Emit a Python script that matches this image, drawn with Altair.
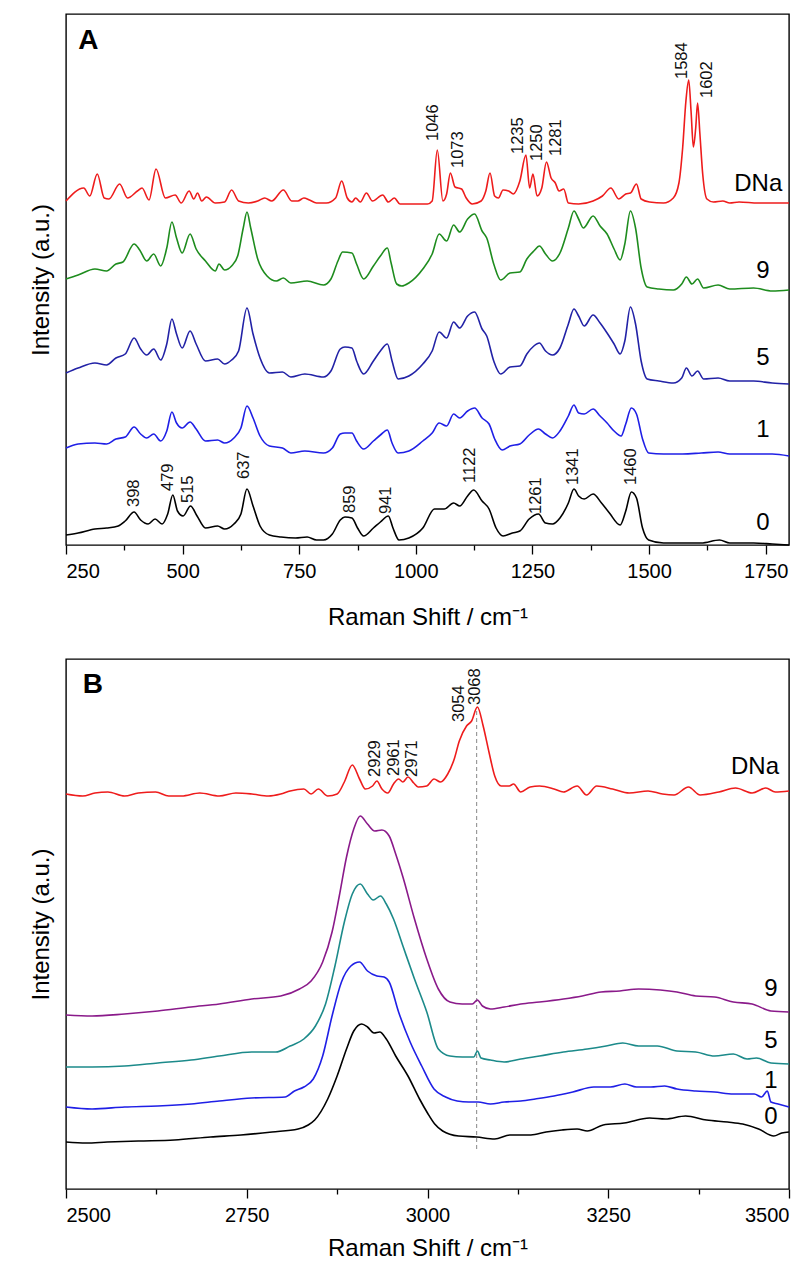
import altair as alt
import pandas as pd

FONT = "Liberation Sans"

# ---------------- Panel A (250-1800 cm-1) : (Raman shift, intensity a.u.) ----------------
A_DNA = [(250, 344), (288, 357), (301, 349), (317, 371), (332, 347), (342, 346), (365, 361), (382, 347),
         (403, 354), (413, 357), (428, 345), (443, 376), (463, 347), (484, 350), (497, 342), (514, 354),
         (524, 346), (532, 352), (541, 344), (551, 348), (570, 342), (590, 343), (605, 355), (620, 344),
         (641, 342), (661, 344), (676, 347), (691, 344), (716, 355), (734, 344), (747, 344), (760, 347),
         (772, 345), (787, 342), (808, 342), (828, 347), (841, 364), (853, 347), (863, 343), (871, 347),
         (881, 343), (894, 352), (907, 344), (929, 350), (941, 343), (954, 347), (966, 341), (1025, 341),
         (1035, 344), (1046, 395), (1058, 344), (1066, 351), (1074, 372), (1084, 358), (1098, 356),
         (1108, 347), (1121, 341), (1140, 344), (1150, 354), (1159, 372), (1169, 349), (1177, 347),
         (1187, 355), (1199, 354), (1209, 351), (1223, 364), (1236, 390), (1244, 357), (1251, 371),
         (1260, 349), (1270, 357), (1280, 383), (1290, 367), (1299, 362), (1307, 354), (1317, 356),
         (1327, 342), (1349, 341), (1380, 344), (1400, 349), (1418, 357), (1435, 346), (1450, 351),
         (1460, 352), (1473, 361), (1483, 346), (1501, 343), (1531, 342), (1552, 347), (1564, 362),
         (1572, 397), (1579, 444), (1585, 465), (1590, 434), (1595, 398), (1600, 417), (1604, 442),
         (1609, 411), (1615, 371), (1624, 346), (1638, 343), (1658, 344), (1673, 342), (1693, 343),
         (1734, 342), (1764, 342), (1800, 342)]

A_9 = [(250, 266), (276, 270), (312, 276), (337, 274), (357, 281), (372, 283), (396, 301), (408, 295),
       (423, 284), (438, 291), (453, 279), (466, 297), (477, 323), (487, 307), (499, 292), (516, 311),
       (529, 296), (549, 284), (570, 274), (578, 281), (590, 275), (605, 279), (618, 289), (630, 317),
       (638, 333), (646, 317), (661, 286), (681, 269), (701, 264), (716, 267), (732, 262), (767, 264),
       (802, 260), (818, 266), (833, 284), (843, 293), (863, 292), (873, 281), (888, 266), (909, 279),
       (924, 289), (939, 297), (947, 282), (959, 261), (970, 259), (985, 262), (1015, 276), (1035, 291),
       (1050, 311), (1066, 304), (1081, 320), (1094, 313), (1111, 326), (1126, 331), (1142, 314),
       (1152, 307), (1167, 281), (1182, 265), (1202, 272), (1223, 273), (1238, 286), (1253, 294),
       (1265, 299), (1278, 291), (1293, 284), (1309, 292), (1327, 317), (1339, 334), (1349, 326),
       (1359, 317), (1380, 329), (1395, 319), (1410, 311), (1425, 296), (1438, 285), (1448, 301),
       (1460, 334), (1471, 317), (1483, 277), (1496, 258), (1521, 256), (1552, 255), (1570, 261),
       (1580, 268), (1592, 261), (1604, 266), (1617, 257), (1648, 260), (1673, 256), (1724, 257),
       (1764, 254), (1800, 255)]

A_5 = [(250, 172), (276, 177), (312, 182), (337, 180), (357, 187), (377, 191), (396, 207), (410, 196),
       (423, 190), (438, 196), (453, 185), (466, 201), (477, 226), (487, 211), (499, 197), (516, 214),
       (529, 201), (549, 184), (575, 186), (590, 181), (605, 185), (620, 194), (638, 237), (651, 211),
       (666, 187), (686, 172), (714, 173), (732, 168), (762, 171), (802, 168), (818, 174), (838, 196),
       (848, 198), (863, 197), (873, 184), (888, 171), (909, 184), (924, 194), (939, 201), (949, 184),
       (962, 166), (985, 169), (1015, 181), (1035, 194), (1050, 213), (1066, 207), (1081, 223),
       (1094, 217), (1111, 229), (1126, 233), (1142, 216), (1152, 209), (1167, 184), (1182, 171),
       (1202, 178), (1223, 179), (1238, 191), (1253, 199), (1265, 202), (1278, 194), (1293, 190),
       (1309, 197), (1327, 221), (1339, 236), (1349, 229), (1361, 219), (1380, 230), (1395, 222),
       (1410, 212), (1425, 201), (1438, 191), (1448, 204), (1460, 238), (1471, 221), (1483, 184),
       (1496, 166), (1521, 164), (1552, 162), (1570, 167), (1580, 177), (1592, 169), (1604, 174),
       (1617, 166), (1648, 167), (1673, 164), (1724, 164), (1764, 162), (1800, 161)]

A_1 = [(250, 97), (276, 101), (312, 102), (337, 101), (357, 106), (377, 108), (396, 118), (410, 111),
       (423, 107), (438, 111), (453, 104), (466, 114), (477, 133), (487, 122), (499, 117), (516, 123),
       (529, 116), (549, 104), (575, 105), (590, 102), (610, 107), (625, 117), (638, 139), (651, 127),
       (666, 109), (686, 99), (714, 97), (732, 92), (762, 94), (802, 92), (821, 97), (838, 111),
       (848, 112), (863, 112), (873, 104), (888, 96), (909, 104), (924, 110), (939, 115), (949, 102),
       (962, 92), (985, 94), (1015, 104), (1035, 112), (1050, 122), (1066, 119), (1081, 131),
       (1094, 127), (1111, 134), (1126, 137), (1142, 127), (1157, 121), (1169, 106), (1185, 95),
       (1202, 99), (1223, 101), (1243, 110), (1263, 116), (1278, 111), (1293, 107), (1309, 114),
       (1327, 129), (1339, 140), (1349, 132), (1361, 131), (1380, 136), (1395, 129), (1410, 122),
       (1425, 114), (1440, 109), (1450, 121), (1462, 137), (1473, 131), (1486, 106), (1499, 92),
       (1531, 91), (1572, 91), (1612, 92), (1648, 93), (1673, 91), (1724, 91), (1764, 91), (1800, 89)]

A_0 = [(250, 10), (276, 12), (312, 16), (337, 17), (362, 19), (377, 24), (396, 33), (410, 25), (426, 21),
       (441, 26), (456, 21), (468, 31), (479, 50), (489, 34), (501, 29), (517, 39), (531, 29), (549, 17),
       (575, 19), (590, 16), (610, 21), (625, 31), (638, 56), (651, 39), (666, 19), (686, 10), (711, 8),
       (742, 7), (767, 8), (787, 5), (802, 5), (821, 11), (838, 25), (848, 28), (863, 27), (875, 17),
       (888, 9), (909, 17), (924, 23), (941, 29), (951, 17), (964, 5), (985, 7), (1015, 17), (1040, 36),
       (1061, 36), (1081, 42), (1094, 39), (1111, 49), (1124, 55), (1142, 44), (1157, 36), (1172, 17),
       (1187, 9), (1207, 12), (1223, 14), (1243, 26), (1263, 31), (1278, 22), (1293, 21), (1309, 27),
       (1327, 42), (1339, 56), (1349, 49), (1361, 46), (1380, 51), (1398, 42), (1415, 32), (1438, 20),
       (1450, 34), (1462, 53), (1473, 47), (1486, 17), (1499, 5), (1531, 2), (1572, 2), (1612, 2),
       (1651, 5), (1673, 2), (1724, 2), (1764, 1), (1800, 0)]

A_PEAKS = [("1046", 1037, 404), ("1073", 1091, 377), ("1235", 1220, 391), ("1250", 1260, 384),
           ("1281", 1301, 389), ("1584", 1570, 466), ("1602", 1624, 447),
           ("398", 395, 38), ("479", 468, 54), ("515", 511, 42), ("637", 632, 66), ("859", 858, 32),
           ("941", 936, 31), ("1122", 1116, 62), ("1261", 1258, 31), ("1341", 1336, 60), ("1460", 1462, 60)]
A_LABELS = [("DNa", 1734, 361), ("9", 1744, 274), ("5", 1744, 187), ("1", 1744, 115), ("0", 1744, 22)]

# ---------------- Panel B (2500-3500 cm-1) ----------------
B_DNA = [(2500, 395), (2523, 393), (2540, 396), (2558, 397), (2581, 393), (2600, 396), (2624, 397),
         (2642, 393), (2660, 393), (2685, 396), (2712, 393), (2735, 396), (2757, 395), (2780, 393),
         (2797, 395), (2810, 398), (2829, 400), (2839, 395), (2849, 400), (2862, 393), (2875, 395),
         (2885, 407), (2896, 424), (2906, 410), (2914, 400), (2924, 403), (2930, 408), (2937, 400),
         (2945, 396), (2953, 405), (2960, 410), (2966, 407), (2973, 412), (2981, 406), (2987, 402),
         (2999, 403), (3009, 410), (3018, 407), (3028, 415), (3037, 430), (3044, 448), (3054, 463),
         (3061, 468), (3069, 482), (3077, 463), (3085, 437), (3093, 413), (3102, 403), (3113, 403),
         (3119, 405), (3129, 397), (3142, 402), (3155, 403), (3175, 400), (3188, 397), (3207, 403),
         (3220, 394), (3234, 403), (3256, 400), (3279, 396), (3305, 398), (3325, 395), (3341, 394),
         (3361, 402), (3377, 394), (3403, 397), (3426, 401), (3449, 396), (3468, 401), (3481, 397),
         (3500, 398)]

B_9 = [(2500, 174), (2536, 173), (2581, 175), (2627, 178), (2673, 182), (2712, 185), (2757, 190),
       (2797, 193), (2823, 200), (2839, 208), (2855, 227), (2868, 257), (2878, 293), (2888, 332),
       (2898, 360), (2907, 373), (2917, 365), (2927, 358), (2937, 359), (2947, 353), (2956, 335),
       (2966, 312), (2982, 270), (2999, 230), (3015, 200), (3031, 187), (3048, 185), (3062, 185),
       (3069, 189), (3076, 183), (3087, 180), (3106, 182), (3129, 185), (3155, 187), (3188, 190),
       (3214, 193), (3240, 197), (3266, 198), (3292, 200), (3322, 199), (3345, 197), (3371, 193),
       (3397, 192), (3423, 187), (3449, 185), (3475, 178), (3500, 177)]

B_5 = [(2500, 122), (2536, 122), (2581, 123), (2627, 126), (2673, 129), (2712, 133), (2757, 137),
       (2790, 137), (2810, 143), (2829, 150), (2845, 163), (2859, 185), (2872, 223), (2885, 267),
       (2896, 295), (2907, 305), (2917, 295), (2925, 289), (2935, 293), (2943, 285), (2953, 270),
       (2966, 243), (2982, 210), (2999, 177), (3015, 140), (3031, 133), (3048, 132), (3064, 132),
       (3069, 138), (3074, 131), (3087, 129), (3106, 127), (3129, 130), (3155, 133), (3188, 137),
       (3221, 140), (3247, 143), (3270, 146), (3292, 143), (3318, 143), (3345, 138), (3371, 137),
       (3397, 133), (3423, 135), (3442, 130), (3455, 131), (3475, 126), (3500, 125)]

B_1 = [(2500, 82), (2536, 80), (2581, 82), (2627, 83), (2673, 85), (2712, 88), (2757, 91), (2803, 92),
       (2816, 98), (2829, 102), (2842, 110), (2855, 133), (2868, 173), (2881, 207), (2894, 223),
       (2906, 227), (2917, 218), (2930, 213), (2940, 212), (2947, 207), (2960, 177), (2976, 147),
       (2992, 123), (3009, 100), (3025, 92), (3041, 88), (3057, 87), (3070, 87), (3087, 85), (3106, 87),
       (3129, 88), (3149, 90), (3175, 93), (3201, 97), (3230, 102), (3253, 102), (3273, 105), (3289, 102),
       (3309, 102), (3328, 103), (3345, 100), (3371, 98), (3397, 97), (3423, 95), (3452, 95), (3462, 92),
       (3470, 98), (3475, 87), (3485, 85), (3500, 82)]

B_0 = [(2500, 47), (2528, 46), (2557, 47), (2600, 48), (2650, 49), (2700, 52), (2742, 54), (2785, 57),
       (2821, 60), (2835, 64), (2844, 69), (2862, 90), (2875, 113), (2888, 140), (2898, 158), (2909, 165),
       (2917, 162), (2926, 156), (2934, 157), (2943, 150), (2956, 133), (2973, 113), (2989, 90),
       (3000, 76), (3010, 65), (3021, 58), (3043, 53), (3068, 52), (3093, 50), (3114, 54), (3143, 54),
       (3164, 57), (3186, 59), (3207, 60), (3221, 58), (3243, 64), (3272, 66), (3307, 71), (3329, 70),
       (3357, 73), (3386, 69), (3415, 67), (3436, 65), (3458, 60), (3479, 53), (3490, 56), (3500, 57)]

B_PEAKS = [("2929", 2928, 412), ("2961", 2953, 413), ("2971", 2978, 412),
           ("3054", 3043, 467), ("3068", 3066, 484)]
B_LABELS = [("DNa", 3453, 422), ("9", 3475, 200), ("5", 3475, 148), ("1", 3475, 108), ("0", 3475, 72)]
B_MARKER = [(3068, 40, 482)]

SERIES = ["DNa", "9", "5", "1", "0"]
A_COLORS = ["#ee1c1c", "#1e8c1e", "#2222a6", "#1f1fe6", "#000000"]
B_COLORS = ["#ee1c1c", "#8a1a8a", "#1c8a8a", "#1f1fe6", "#000000"]

W = 723


def spectra_df(series_data, prefix):
    rows = []
    for name, pairs in zip(SERIES, series_data):
        for x, y in pairs:
            rows.append({"shift": x, "intensity": y, "series": prefix + name})
    return pd.DataFrame(rows)


def panel(series_data, colors, peaks, labels, letter, letter_pos, xdom, ydom, height,
          title_pad, marker=None):
    xs = alt.Scale(domain=xdom, nice=False, zero=False)
    ys = alt.Scale(domain=ydom, nice=False, zero=False)
    tick_vals = list(range(xdom[0], xdom[1] + 1, 125))
    xaxis = alt.Axis(
        values=tick_vals, format="d",
        labelExpr="datum.value % 250 === 0 ? datum.label : ''",
        tickSize={"condition": {"test": "datum.value % 250 === 0", "value": 9}, "value": 5},
        tickColor="black", tickWidth=1.3, domain=False, grid=False,
        labelFontSize=20, labelPadding=7, labelColor="black", labelFont=FONT,
        title="Raman Shift / cm⁻¹", titleFontSize=24, titleFontWeight="normal",
        titlePadding=title_pad, titleColor="black", titleFont=FONT,
    )
    yaxis = alt.Axis(
        labels=False, ticks=False, domain=False, grid=False,
        title="Intensity (a.u.)", titleFontSize=24, titleFontWeight="normal",
        titlePadding=13, titleColor="black", titleFont=FONT,
    )
    X = lambda f: alt.X(f, scale=xs, axis=xaxis)
    Y = lambda f: alt.Y(f, scale=ys, axis=yaxis)
    names = [letter + s for s in SERIES]
    lines = alt.Chart(spectra_df(series_data, letter)).mark_line(
        strokeWidth=1.6, interpolate="monotone"
    ).encode(
        x=X("shift:Q"),
        y=Y("intensity:Q"),
        color=alt.Color("series:N", scale=alt.Scale(domain=names, range=colors), legend=None),
        detail="series:N",
    )
    pk = pd.DataFrame(peaks, columns=["label", "shift", "intensity"])
    peak_text = alt.Chart(pk).mark_text(
        angle=270, align="left", baseline="middle", fontSize=16.5, font=FONT, color="#111"
    ).encode(x=X("shift:Q"), y=Y("intensity:Q"), text="label:N")
    lb = pd.DataFrame(labels, columns=["label", "shift", "intensity"])
    label_text = alt.Chart(lb).mark_text(
        align="center", baseline="middle", fontSize=24, font=FONT, color="black"
    ).encode(x=X("shift:Q"), y=Y("intensity:Q"), text="label:N")
    lt = pd.DataFrame([{"label": letter, "shift": letter_pos[0], "intensity": letter_pos[1]}])
    letter_text = alt.Chart(lt).mark_text(
        align="left", baseline="alphabetic", fontSize=28, fontWeight="bold", font=FONT, color="black"
    ).encode(x=X("shift:Q"), y=Y("intensity:Q"), text="label:N")
    layers = [lines, peak_text, label_text, letter_text]
    if marker:
        mk = pd.DataFrame(marker, columns=["shift", "y0", "y1"])
        rule = alt.Chart(mk).mark_rule(color="#888", strokeDash=[4, 3], strokeWidth=1).encode(
            x=X("shift:Q"), y=Y("y0:Q"), y2="y1:Q",
        )
        layers.insert(0, rule)
    return alt.layer(*layers).properties(width=W, height=height)


panel_a = panel([A_DNA, A_9, A_5, A_1, A_0], A_COLORS, A_PEAKS, A_LABELS, "A", (276, 496),
                [250, 1800], [0, 531], 531, 24)
panel_b = panel([B_DNA, B_9, B_5, B_1, B_0], B_COLORS, B_PEAKS, B_LABELS, "B", (2523, 496),
                [2500, 3500], [0, 530], 530, 11, marker=B_MARKER)

chart = alt.vconcat(panel_a, panel_b, spacing=28).properties(
    padding={"left": 20, "top": 5, "right": 5, "bottom": 3}
).resolve_scale(
    color="independent"
).configure(
    font=FONT, background="white"
).configure_view(
    stroke="black", strokeWidth=1.4
)

chart.save("out.html", embed_options={"renderer": "svg", "actions": False})
